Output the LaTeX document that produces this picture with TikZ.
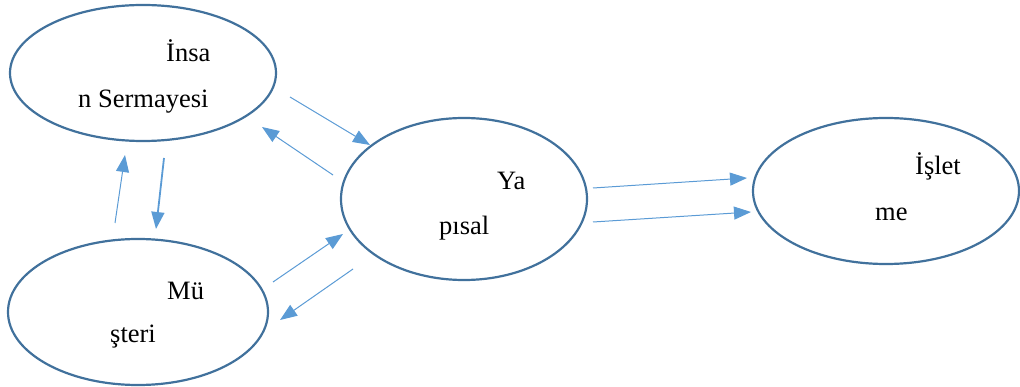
\documentclass[tikz,border=0pt]{standalone}
\usepackage{fontspec}
\setmainfont{Liberation Serif}
\usetikzlibrary{shapes.geometric,arrows.meta}
\definecolor{ringblue}{HTML}{41719C}
\definecolor{flowblue}{HTML}{5B9BD5}
\tikzset{
  oval/.style={ellipse,draw=ringblue,line width=2.2pt,inner sep=0pt},
  word/.style={anchor=base west,inner sep=0pt,font=\fontsize{26.5}{30}\selectfont},
  flow/.style={draw=flowblue,line width=1pt,-{Triangle[length=17pt,width=13pt]}},
  boldflow/.style={flow,line width=1.8pt}
}
\begin{document}
\begin{tikzpicture}[x=1pt,y=-1pt]
\useasboundingbox (0,0) rectangle (1020,387);
% ellipses
\node[oval,minimum width=266pt,minimum height=136pt] (insan) at (143,73) {};
\node[oval,minimum width=260pt,minimum height=146pt] (musteri) at (138,312) {};
\node[oval,minimum width=246pt,minimum height=162pt] (yapisal) at (464,199) {};
\node[oval,minimum width=266pt,minimum height=146pt] (isletme) at (886,191) {};
% labels
\node[word] (t1) at (166,62) {İnsa};
\node[word] (t2) at (78,108) {n Sermayesi};
\node[word] (t3) at (167,300) {Mü};
\node[word] (t4) at (110,342) {şteri};
\node[word] (t5) at (497,190) {Ya};
\node[word] (t6) at (439,235) {pısal};
\node[word] (t7) at (915,175) {İşlet};
\node[word] (t8) at (875,221) {me};
% arrow end points
\coordinate (a1s) at (290,97);  \coordinate (a1e) at (370,145);
\coordinate (a2s) at (333,175); \coordinate (a2e) at (262,127);
\coordinate (a3s) at (115,223); \coordinate (a3e) at (125,155);
\coordinate (a4s) at (164,158); \coordinate (a4e) at (156,229);
\coordinate (a5s) at (273,282); \coordinate (a5e) at (343,234);
\coordinate (a6s) at (353,269); \coordinate (a6e) at (280,320);
\coordinate (a7s) at (593,188); \coordinate (a7e) at (747,178);
\coordinate (a8s) at (593,222); \coordinate (a8e) at (751,212);
% arrows
\draw[flow] (a1s) -- (a1e);
\draw[flow] (a2s) -- (a2e);
\draw[flow] (a3s) -- (a3e);
\draw[boldflow] (a4s) -- (a4e);
\draw[flow] (a5s) -- (a5e);
\draw[flow] (a6s) -- (a6e);
\draw[flow] (a7s) -- (a7e);
\draw[flow] (a8s) -- (a8e);
\end{tikzpicture}
\end{document}
